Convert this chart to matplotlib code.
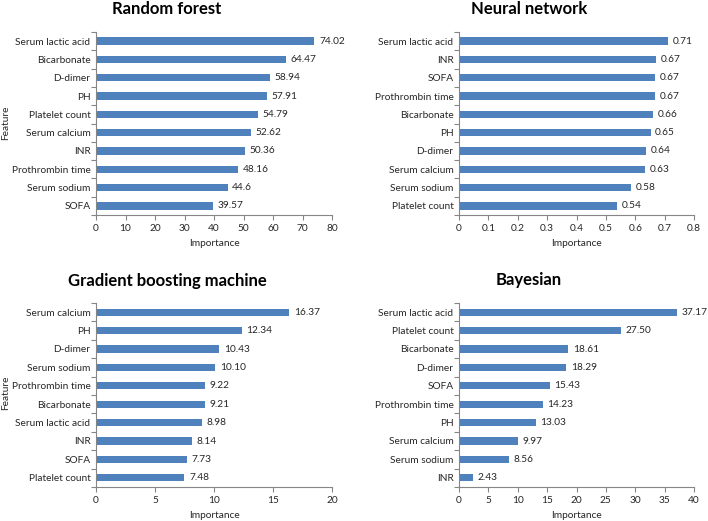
import matplotlib
matplotlib.use("Agg")
import matplotlib.pyplot as plt
from matplotlib.ticker import MultipleLocator, FixedLocator

plt.rcParams['font.family'] = ['Lato', 'DejaVu Sans']

# data, listed top to bottom as in the picture
rf_features = ["Serum lactic acid", "Bicarbonate", "D-dimer", "PH", "Platelet count",
               "Serum calcium", "INR", "Prothrombin time", "Serum sodium", "SOFA"]
rf_values = [74.02, 64.47, 58.94, 57.91, 54.79, 52.62, 50.36, 48.16, 44.6, 39.57]
rf_labels = ["74.02", "64.47", "58.94", "57.91", "54.79", "52.62", "50.36", "48.16", "44.6", "39.57"]

nn_features = ["Serum lactic acid", "INR", "SOFA", "Prothrombin time", "Bicarbonate",
               "PH", "D-dimer", "Serum calcium", "Serum sodium", "Platelet count"]
nn_values = [0.71, 0.67, 0.668, 0.667, 0.66, 0.652, 0.638, 0.633, 0.584, 0.538]
nn_labels = ["0.71", "0.67", "0.67", "0.67", "0.66", "0.65", "0.64", "0.63", "0.58", "0.54"]

gbm_features = ["Serum calcium", "PH", "D-dimer", "Serum sodium", "Prothrombin time",
                "Bicarbonate", "Serum lactic acid", "INR", "SOFA", "Platelet count"]
gbm_values = [16.37, 12.34, 10.43, 10.10, 9.22, 9.21, 8.98, 8.14, 7.73, 7.48]
gbm_labels = ["16.37", "12.34", "10.43", "10.10", "9.22", "9.21", "8.98", "8.14", "7.73", "7.48"]

bay_features = ["Serum lactic acid", "Platelet count", "Bicarbonate", "D-dimer", "SOFA",
                "Prothrombin time", "PH", "Serum calcium", "Serum sodium", "INR"]
bay_values = [37.17, 27.50, 18.61, 18.29, 15.43, 14.23, 13.03, 9.97, 8.56, 2.43]
bay_labels = ["37.17", "27.50", "18.61", "18.29", "15.43", "14.23", "13.03", "9.97", "8.56", "2.43"]

W, H = 708, 521
BAR = '#4F81BD'
AXC = '#868686'
TXT = '#262626'
FS = 7.3

fig = plt.figure(figsize=(W / 100, H / 100), dpi=100)


def px_axes(x0, x1, ytop, ybot):
    return fig.add_axes([x0 / W, 1 - ybot / H, (x1 - x0) / W, (ybot - ytop) / H])


def panel(ax, title, title_xy, feats, vals, labs, xmax, step, fmt, pad):
    n = len(feats)
    ypos = list(range(n - 1, -1, -1))
    ax.barh(ypos, vals, height=0.4, color=BAR, zorder=2)
    for y, v, s in zip(ypos, vals, labs):
        ax.text(v + pad, y, s, va='center', ha='left', fontsize=FS, color=TXT)
    ax.set_xlim(0, xmax)
    ax.set_ylim(-0.5, n - 0.5)
    ax.xaxis.set_major_locator(MultipleLocator(step))
    ax.xaxis.set_major_formatter(plt.FuncFormatter(fmt))
    ax.set_yticks(ypos)
    ax.set_yticklabels(feats)
    ax.yaxis.set_minor_locator(FixedLocator([i - 0.5 for i in range(n + 1)]))
    ax.tick_params(axis='y', which='major', length=0, pad=4, labelsize=FS, labelcolor=TXT)
    ax.tick_params(axis='y', which='minor', length=3.5, color=AXC, width=0.8)
    ax.tick_params(axis='x', length=3.5, color=AXC, width=0.8, labelsize=FS, labelcolor=TXT, pad=3)
    for s in ('top', 'right'):
        ax.spines[s].set_visible(False)
    for s in ('left', 'bottom'):
        ax.spines[s].set_color(AXC)
        ax.spines[s].set_linewidth(0.8)
    ax.set_xlabel('Importance', fontsize=FS, color=TXT, labelpad=4)
    fig.text(title_xy[0] / W, 1 - title_xy[1] / H, title, ha='center', va='center',
             fontsize=12, fontweight='bold', color='black')


ax1 = px_axes(96, 332, 32, 215)
panel(ax1, 'Random forest', (167, 9), rf_features, rf_values, rf_labels, 80, 10,
      lambda v, p: f'{v:.0f}', 1.6)
ax2 = px_axes(459, 694, 32, 215)
panel(ax2, 'Neural network', (529, 9), nn_features, nn_values, nn_labels, 0.8, 0.1,
      lambda v, p: '0' if v == 0 else f'{v:.1f}', 0.016)
ax3 = px_axes(96, 332, 303, 487)
panel(ax3, 'Gradient boosting machine', (167, 281), gbm_features, gbm_values, gbm_labels, 20, 5,
      lambda v, p: f'{v:.0f}', 0.4)
ax4 = px_axes(459, 694, 303, 487)
panel(ax4, 'Bayesian', (529, 280), bay_features, bay_values, bay_labels, 40, 5,
      lambda v, p: f'{v:.0f}', 0.8)

for y in (123, 393):
    fig.text(6 / W, 1 - y / H, 'Feature', rotation=90, ha='center', va='center',
             fontsize=FS, color=TXT)

fig.savefig('out.png', dpi=100, facecolor='white')
